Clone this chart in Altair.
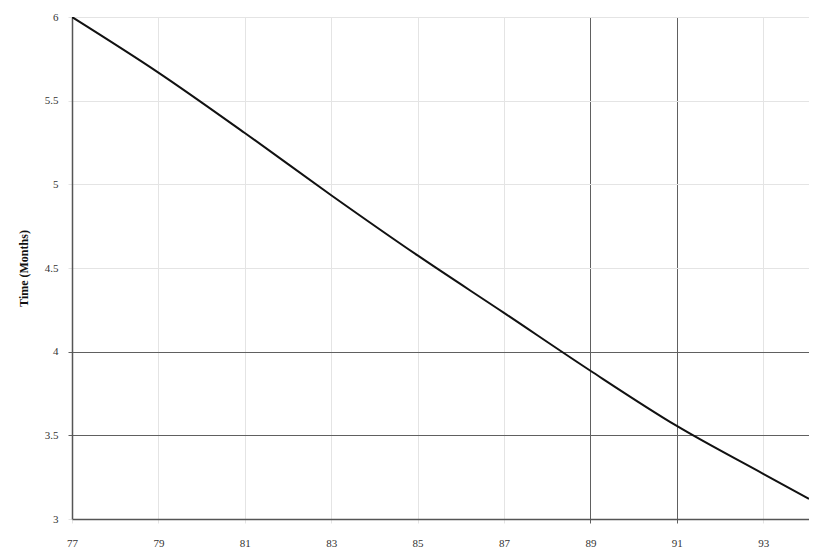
import altair as alt
import pandas as pd

years = [77, 79, 81, 83, 85, 87, 89, 91, 93, 94.06]
months = [6.0, 5.668, 5.307, 4.935, 4.575, 4.232, 3.886, 3.556, 3.27, 3.12]
x_ticks = [77, 79, 81, 83, 85, 87, 89, 91, 93]
y_ticks = [3, 3.5, 4, 4.5, 5, 5.5, 6]

df = pd.DataFrame({"x": years, "y": months})

dark = "#606060"
light = "#e4e4e4"

x_grid = alt.condition("datum.value == 89 || datum.value == 91", alt.value(dark), alt.value(light))
y_grid = alt.condition("datum.value == 4 || datum.value == 3.5", alt.value(dark), alt.value(light))

chart = alt.Chart(df).mark_line(color="#111111", strokeWidth=2, clip=True, interpolate="monotone").encode(
    x=alt.X("x:Q", scale=alt.Scale(domain=[77, 94.06], nice=False, zero=False),
            axis=alt.Axis(values=x_ticks, title=None, gridColor=x_grid, tickColor=x_grid,
                          tickSize=4, labelPadding=14, format="d", labelFlush=False)),
    y=alt.Y("y:Q", scale=alt.Scale(domain=[3, 6], nice=False, zero=False),
            axis=alt.Axis(values=y_ticks, title="Time (Months)", gridColor=y_grid, tickColor=y_grid,
                          tickSize=4, labelPadding=10, titlePadding=14, format="~g",
                          labelFlush=False)),
).properties(
    width=737, height=502,
    autosize=alt.AutoSizeParams(type="none"),
    padding={"left": 64, "top": 9, "right": 0, "bottom": 30},
).configure_axis(
    labelFont="Liberation Serif", labelFontSize=11, labelColor="#333333",
    titleFont="Liberation Serif", titleFontSize=12, titleFontWeight="bold", titleColor="#111111",
    domainColor="#555555", domainWidth=1.5, gridWidth=1,
).configure_view(stroke=None)

chart.save("out.html", embed_options={"renderer": "svg", "actions": False})
